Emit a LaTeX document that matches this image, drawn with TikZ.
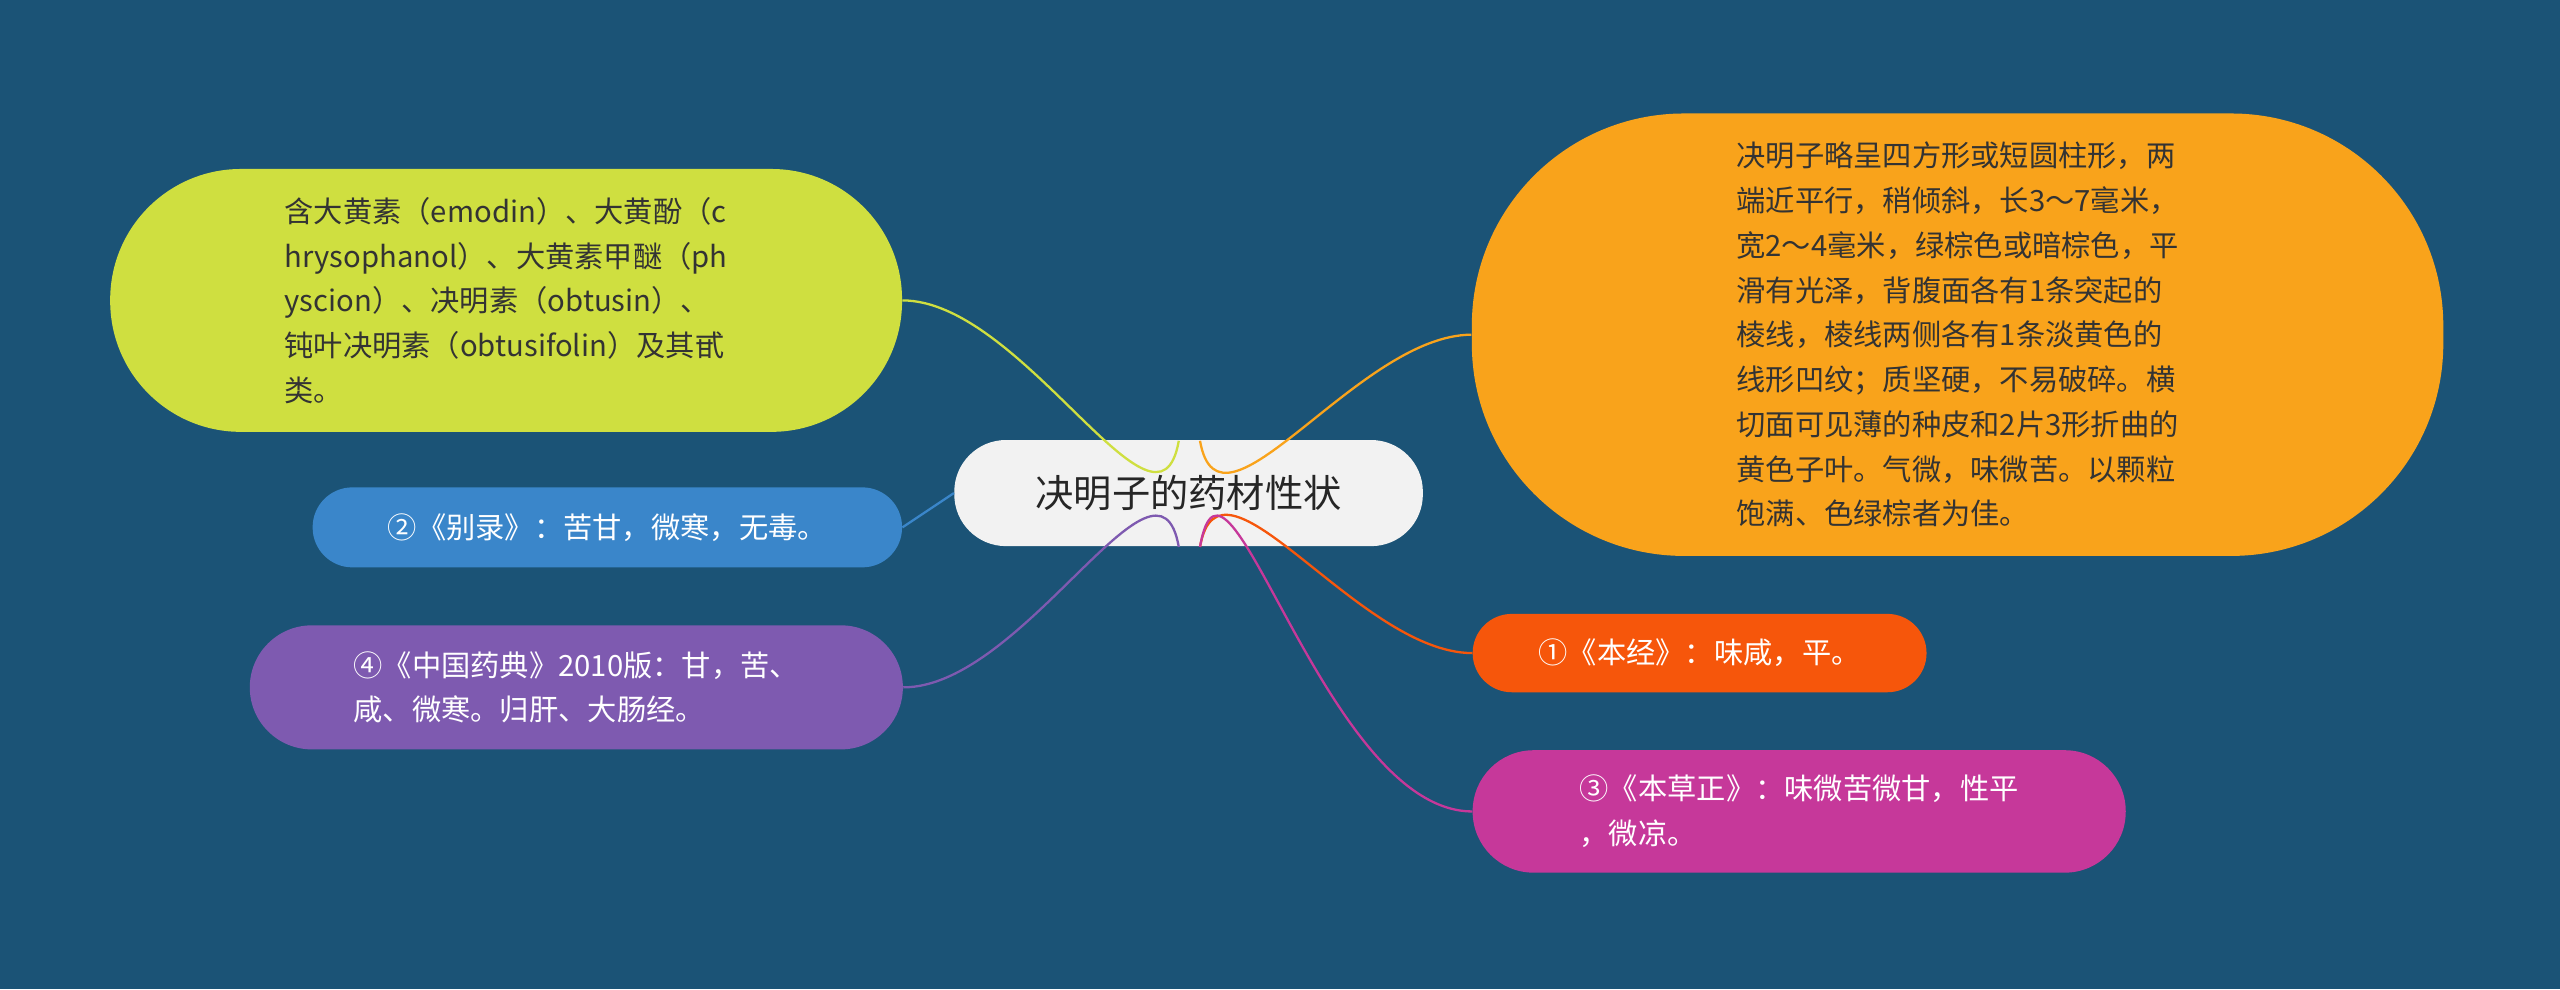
\documentclass[tikz,border=0pt]{standalone}
\usepackage{fontspec}
\setmainfont{Noto Sans CJK SC}
\usetikzlibrary{positioning}
\definecolor{bgblue}{HTML}{1B5376}
\definecolor{rootgray}{HTML}{F2F2F2}
\definecolor{limegreen}{HTML}{CFDF40}
\definecolor{leafblue}{HTML}{3A86CA}
\definecolor{leafpurple}{HTML}{7E5AB0}
\definecolor{leaforange}{HTML}{F9A31B}
\definecolor{leafred}{HTML}{F6560B}
\definecolor{leafpink}{HTML}{C6389A}
\tikzset{
    leaf/.style={rectangle, align=left, inner sep=0pt, font=\fontsize{15.3}{23.4}\selectfont},
    link/.style={line width=1.2pt},
}
\begin{document}
\begin{tikzpicture}[x=0.03cm, y=-0.03cm]
  \fill[bgblue] (0,0) rectangle (1568,606);
  \useasboundingbox (0,0) rectangle (1568,606);

  \node[rectangle, rounded corners=0.95cm, fill=rootgray, minimum width=8.61cm, minimum height=1.95cm, font=\fontsize{20}{24}\selectfont, text=black!85] (root) at (728,302) {决明子的药材性状};

  \node[leaf, fill=limegreen, minimum width=14.55cm, minimum height=4.83cm, rounded corners=2.4cm, text=black!80] (chem) at (310,184) {含大黄素（emodin）、大黄酚（c\\hrysophanol）、大黄素甲醚（ph\\yscion）、决明素（obtusin）、\\钝叶决明素（obtusifolin）及其甙\\类。};
  \node[leaf, fill=leafblue, minimum width=10.83cm, minimum height=1.47cm, rounded corners=0.73cm, text=white] (bielu) at (372,323) {②《别录》：苦甘，微寒，无毒。};
  \node[leaf, fill=leafpurple, minimum width=12cm, minimum height=2.28cm, rounded corners=1.14cm, text=white] (yaodian) at (353,421) {④《中国药典》2010版：甘，苦、\\咸、微寒。归肝、大肠经。};
  \node[leaf, fill=leaforange, minimum width=17.85cm, minimum height=8.13cm, rounded corners=3.9cm, text=black!80] (shape) at (1199,205) {决明子略呈四方形或短圆柱形，两\\端近平行，稍倾斜，长3～7毫米，\\宽2～4毫米，绿棕色或暗棕色，平\\滑有光泽，背腹面各有1条突起的\\棱线，棱线两侧各有1条淡黄色的\\线形凹纹；质坚硬，不易破碎。横\\切面可见薄的种皮和2片3形折曲的\\黄色子叶。气微，味微苦。以颗粒\\饱满、色绿棕者为佳。};
  \node[leaf, fill=leafred, minimum width=8.34cm, minimum height=1.44cm, rounded corners=0.72cm, text=white] (benjing) at (1041,400) {①《本经》：味咸，平。};
  \node[leaf, fill=leafpink, minimum width=12cm, minimum height=2.25cm, rounded corners=1.12cm, text=white] (bencao) at (1102,497) {③《本草正》：味微苦微甘，性平\\，微凉。};

  \coordinate (rtl) at (722,270);
  \coordinate (rtr) at (735,270);
  \coordinate (rbl) at (722,335);
  \coordinate (rbr) at (735,335);

  \draw[link, limegreen] (rtl) to[out=-100, in=0] (chem.east);
  \draw[link, leafblue] (root.west) -- (bielu.east);
  \draw[link, leafpurple] (rbl) to[out=100, in=0] (yaodian.east);
  \draw[link, leaforange] (rtr) to[out=-80, in=180] (shape.west);
  \draw[link, leafred] (rbr) to[out=80, in=180] (benjing.west);
  \draw[link, leafpink] (rbr) to[out=80, in=180] (bencao.west);
\end{tikzpicture}
\end{document}
